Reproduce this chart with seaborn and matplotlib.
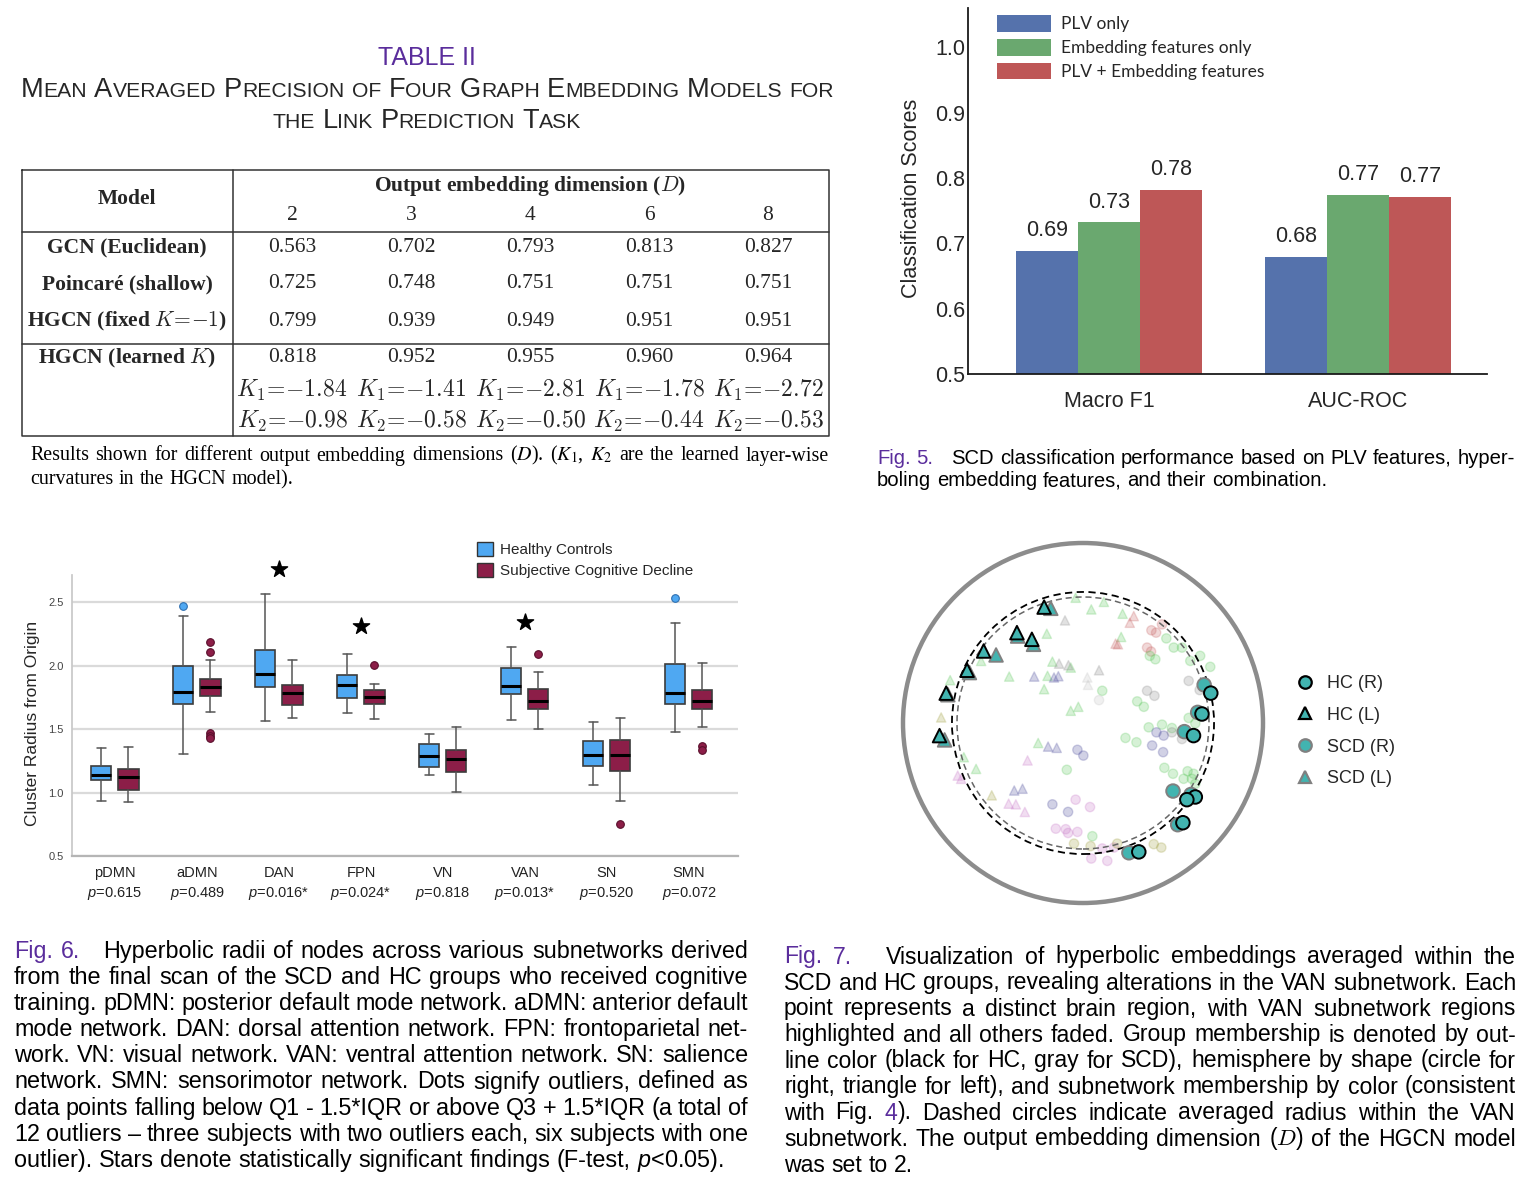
import matplotlib
matplotlib.use("Agg")
import matplotlib.pyplot as plt
from matplotlib.patches import Patch, Circle
from matplotlib.lines import Line2D
import numpy as np
import pandas as pd
import seaborn as sns

W, H = 1522, 1190
PURPLE = "#5A2D9C"
SANS = "Liberation Sans"
SERIF = "Liberation Serif"

# ---------------- Table II values ----------------
dims = [2, 3, 4, 6, 8]
model_names = ["GCN (Euclidean)", "Poincaré (shallow)",
               r"HGCN (fixed $K\!=\!{-}1$)", r"HGCN (learned $K$)"]
map_gcn = [0.563, 0.702, 0.793, 0.813, 0.827]
map_poincare = [0.725, 0.748, 0.751, 0.751, 0.751]
map_hgcn_fixed = [0.799, 0.939, 0.949, 0.951, 0.951]
map_hgcn_learned = [0.818, 0.952, 0.955, 0.960, 0.964]
k1_learned = [-1.84, -1.41, -2.81, -1.78, -2.72]
k2_learned = [-0.98, -0.58, -0.50, -0.44, -0.53]

# ---------------- Fig. 5 values ----------------
metrics = ["Macro F1", "AUC-ROC"]
feature_sets = ["PLV only", "Embedding features only", "PLV + Embedding features"]
plv_scores = [0.688, 0.679]
emb_scores = [0.732, 0.774]
both_scores = [0.782, 0.771]
bar_colors = ["#5572AC", "#6AA86F", "#BE5757"]

# ---------------- Fig. 6 values (box summaries) ----------------
networks = ["pDMN", "aDMN", "DAN", "FPN", "VN", "VAN", "SN", "SMN"]
p_values = [0.615, 0.489, 0.016, 0.024, 0.818, 0.013, 0.520, 0.072]
sig_networks = ["DAN", "FPN", "VAN"]
star_y = [2.76, 2.314, 2.345]

hc_lo = [0.933, 1.30, 1.563, 1.626, 1.14, 1.574, 1.056, 1.479]
hc_q1 = [1.096, 1.694, 1.831, 1.741, 1.203, 1.778, 1.206, 1.694]
hc_med = [1.140, 1.791, 1.936, 1.849, 1.285, 1.836, 1.295, 1.786]
hc_q3 = [1.209, 1.996, 2.122, 1.925, 1.379, 1.983, 1.406, 2.012]
hc_hi = [1.348, 2.39, 2.566, 2.09, 1.461, 2.143, 1.558, 2.335]
hc_out = [[], [2.466], [], [], [], [], [], [2.534]]

scd_lo = [0.923, 1.636, 1.587, 1.576, 1.001, 1.50, 0.930, 1.518]
scd_q1 = [1.022, 1.760, 1.689, 1.694, 1.159, 1.655, 1.169, 1.655]
scd_med = [1.119, 1.828, 1.783, 1.749, 1.266, 1.72, 1.295, 1.718]
scd_q3 = [1.185, 1.896, 1.849, 1.81, 1.337, 1.812, 1.411, 1.804]
scd_hi = [1.358, 2.041, 2.041, 1.852, 1.513, 1.951, 1.584, 2.022]
scd_out = [[], [2.185, 2.109, 1.466, 1.443, 1.427], [], [2.001], [], [2.093], [0.749], [1.366, 1.332]]

HC_BLUE = "#4FA8F2"
SCD_RED = "#8C1E48"

# ---------------- Fig. 7 values (Poincare disk coordinates) ----------------
van_x = [-0.216, -0.367, -0.284, -0.552, -0.644, -0.760, -0.797,
         0.710, 0.661, 0.614, 0.624, 0.577, 0.555, 0.310,
         -0.179, -0.363, -0.275, -0.483, -0.631, -0.751, -0.769,
         0.673, 0.637, 0.563, 0.500, 0.600, 0.526, 0.255]
van_y = [0.644, 0.502, 0.465, 0.400, 0.293, 0.166, -0.070,
         0.166, 0.050, -0.070, -0.411, -0.426, -0.554, -0.716,
         0.637, 0.483, 0.437, 0.378, 0.280, 0.157, -0.094,
         0.212, 0.059, -0.048, -0.378, -0.397, -0.565, -0.721]
van_hemi = ["L"] * 7 + ["R"] * 7 + ["L"] * 7 + ["R"] * 7
van_group = ["HC"] * 14 + ["SCD"] * 14
van_radius_hc = 0.728
van_radius_scd = 0.700
TEAL = "#42B4B0"

faded_points = [
    # left hemisphere (triangles)
    (-0.041, 0.696, "SMN", "L"), (0.046, 0.631, "SMN", "L"), (0.116, 0.673, "SMN", "L"),
    (0.220, 0.607, "SMN", "L"), (-0.201, 0.496, "SMN", "L"), (0.212, 0.478, "SMN", "L"),
    (-0.170, 0.341, "SMN", "L"), (-0.068, 0.308, "SMN", "L"), (-0.197, 0.262, "SMN", "L"),
    (-0.216, 0.188, "SMN", "L"), (-0.410, 0.258, "SMN", "L"), (-0.026, 0.090, "SMN", "L"),
    (-0.068, 0.068, "SMN", "L"), (-0.249, -0.111, "SMN", "L"), (-0.738, 0.238, "SMN", "L"),
    (-0.662, -0.190, "SMN", "L"), (-0.594, -0.255, "SMN", "L"), (-0.566, 0.345, "SMN", "L"),
    (-0.100, 0.570, "FPN", "L"), (-0.081, 0.321, "FPN", "L"), (0.089, 0.293, "FPN", "L"),
    (-0.133, 0.330, "FPN", "L"),
    (0.024, 0.253, "aDMN", "L"), (0.028, 0.212, "aDMN", "L"),
    (0.282, 0.594, "SN", "L"), (0.260, 0.557, "SN", "L"), (0.181, 0.441, "SN", "L"),
    (0.194, 0.437, "SN", "L"),
    (-0.271, 0.258, "DAN", "L"), (-0.161, 0.253, "DAN", "L"), (-0.137, 0.260, "DAN", "L"),
    (-0.194, -0.131, "DAN", "L"), (-0.146, -0.138, "DAN", "L"), (-0.382, -0.375, "DAN", "L"),
    (-0.336, -0.365, "DAN", "L"),
    (-0.308, -0.208, "VN", "L"), (-0.696, -0.292, "VN", "L"), (-0.677, -0.310, "VN", "L"),
    (-0.413, -0.448, "VN", "L"), (-0.373, -0.452, "VN", "L"), (-0.323, -0.494, "VN", "L"),
    (-0.788, 0.031, "pDMN", "L"), (-0.507, -0.402, "pDMN", "L"),
    # right hemisphere (circles)
    (0.380, 0.515, "SN", "R"), (0.406, 0.502, "SN", "R"), (0.439, 0.548, "SN", "R"),
    (0.356, 0.419, "SN", "R"), (0.378, 0.397, "SN", "R"),
    (0.463, 0.470, "SMN", "R"), (0.504, 0.419, "SMN", "R"), (0.550, 0.419, "SMN", "R"),
    (0.371, 0.373, "SMN", "R"), (0.402, 0.354, "SMN", "R"), (0.651, 0.373, "SMN", "R"),
    (0.707, 0.312, "SMN", "R"), (0.596, 0.345, "SMN", "R"), (0.107, 0.179, "SMN", "R"),
    (0.301, 0.120, "SMN", "R"), (0.338, 0.090, "SMN", "R"), (0.587, 0.028, "SMN", "R"),
    (0.624, -0.002, "SMN", "R"), (0.365, -0.024, "SMN", "R"), (0.439, -0.009, "SMN", "R"),
    (0.494, -0.028, "SMN", "R"), (0.236, -0.083, "SMN", "R"), (0.297, -0.107, "SMN", "R"),
    (-0.090, -0.260, "SMN", "R"), (0.452, -0.249, "SMN", "R"), (0.500, -0.282, "SMN", "R"),
    (0.581, -0.268, "SMN", "R"), (0.614, -0.282, "SMN", "R"), (0.559, -0.310, "SMN", "R"),
    (0.605, -0.310, "SMN", "R"), (0.624, -0.338, "SMN", "R"), (0.052, -0.629, "SMN", "R"),
    (0.587, 0.234, "FPN", "R"), (0.356, 0.179, "FPN", "R"), (0.397, 0.151, "FPN", "R"),
    (0.648, 0.183, "FPN", "R"), (0.550, -0.089, "FPN", "R"), (0.494, -0.052, "FPN", "R"),
    (0.089, 0.127, "aDMN", "R"),
    (0.408, -0.052, "DAN", "R"), (0.448, -0.070, "DAN", "R"), (0.384, -0.125, "DAN", "R"),
    (0.445, -0.162, "DAN", "R"), (-0.031, -0.149, "DAN", "R"), (0.002, -0.181, "DAN", "R"),
    (-0.170, -0.452, "DAN", "R"), (-0.083, -0.494, "DAN", "R"),
    (-0.041, -0.426, "VN", "R"), (0.039, -0.467, "VN", "R"), (-0.151, -0.587, "VN", "R"),
    (-0.096, -0.590, "VN", "R"), (-0.083, -0.611, "VN", "R"), (-0.031, -0.605, "VN", "R"),
    (0.046, -0.753, "VN", "R"), (0.135, -0.766, "VN", "R"), (0.107, -0.697, "VN", "R"),
    (0.172, -0.692, "VN", "R"),
    (-0.050, -0.670, "pDMN", "R"), (0.042, -0.684, "pDMN", "R"), (0.393, -0.673, "pDMN", "R"),
    (0.435, -0.692, "pDMN", "R"), (0.190, -0.670, "pDMN", "R"),
]
net_colors = {"SMN": "#5CC85C", "FPN": "#8A8A8A", "SN": "#C86464", "DAN": "#4B4B9B",
              "VN": "#C878C8", "pDMN": "#A0A040", "aDMN": "#C4C4C4"}

# ---------------- captions ----------------
table_caption = [
    "Results shown for different output embedding dimensions ($D$). ($K_1$, $K_2$ are the learned layer-wise",
    "curvatures in the HGCN model).",
]
fig5_caption = [
    "[Fig. 5.]   SCD classification performance based on PLV features, hyper-",
    "boling embedding features, and their combination.",
]
fig6_caption = [
    "[Fig. 6.]   Hyperbolic radii of nodes across various subnetworks derived",
    "from the final scan of the SCD and HC groups who received cognitive",
    "training. pDMN: posterior default mode network. aDMN: anterior default",
    "mode network. DAN: dorsal attention network. FPN: frontoparietal net-",
    "work. VN: visual network. VAN: ventral attention network. SN: salience",
    "network. SMN: sensorimotor network. Dots signify outliers, defined as",
    "data points falling below Q1 - 1.5*IQR or above Q3 + 1.5*IQR (a total of",
    "12 outliers – three subjects with two outliers each, six subjects with one",
    "outlier). Stars denote statistically significant findings (F-test, $p$<0.05).",
]
fig7_caption = [
    "[Fig. 7.]   Visualization of hyperbolic embeddings averaged within the",
    "SCD and HC groups, revealing alterations in the VAN subnetwork. Each",
    "point represents a distinct brain region, with VAN subnetwork regions",
    "highlighted and all others faded. Group membership is denoted by out-",
    "line color (black for HC, gray for SCD), hemisphere by shape (circle for",
    "right, triangle for left), and subnetwork membership by color (consistent",
    "with Fig. [4]). Dashed circles indicate averaged radius within the VAN",
    "subnetwork. The output embedding dimension ($D$) of the HGCN model",
    "was set to 2.",
]

sns.set_theme(style="white")
plt.rcParams["font.family"] = [SANS, "DejaVu Sans"]
plt.rcParams["mathtext.fontset"] = "custom"
plt.rcParams["mathtext.rm"] = SANS
plt.rcParams["mathtext.it"] = SANS + ":italic"
plt.rcParams["mathtext.bf"] = SANS + ":bold"

fig = plt.figure(figsize=(W / 100, H / 100), dpi=100)
ov = fig.add_axes([0, 0, 1, 1])
ov.set_xlim(0, W)
ov.set_ylim(H, 0)
ov.set_autoscale_on(False)
ov.axis("off")
R = fig.canvas.get_renderer()


def px_axes(x0, y0, x1, y1):
    ax = fig.add_axes([x0 / W, 1 - y1 / H, (x1 - x0) / W, (y1 - y0) / H])
    ax.set_facecolor("none")
    return ax


def tw(t):
    return t.get_window_extent(R).width


def small_caps(text, xc, y, big, small, **kw):
    arts, x = [], 0.0
    for i, word in enumerate(text.split(" ")):
        if i:
            x += 0.28 * big * 100 / 72
        runs = []
        for ch in word:
            b = not ch.islower()
            if runs and runs[-1][1] == b:
                runs[-1][0] += ch
            else:
                runs.append([ch, b])
        for s, b in runs:
            t = ov.text(0, y, s.upper(), fontsize=big if b else small,
                        va="baseline", ha="left", **kw)
            arts.append((t, x))
            x += tw(t)
    for t, x0 in arts:
        t.set_x(xc - x / 2 + x0)
    return x, arts


def parse_words(line):
    out, purple = [], False
    for w in line.split(" "):
        segs, buf = [], ""
        for ch in w:
            if ch in "[]":
                if buf:
                    segs.append((buf, purple))
                    buf = ""
                purple = ch == "["
            else:
                buf += ch
        if buf:
            segs.append((buf, purple))
        out.append(segs)
    return out


def paragraph(lines, x0, x1, y0, dy, size, **kw):
    space = 0.28 * size * 100 / 72
    for i, line in enumerate(lines):
        y = y0 + i * dy
        words = []
        for segs in parse_words(line):
            texts, w = [], 0.0
            for s, purple in segs:
                t = ov.text(0, y, s, color=PURPLE if purple else "black",
                            fontsize=size, va="baseline", ha="left", **kw)
                texts.append((t, w))
                w += tw(t)
            words.append((texts, w))
        total = sum(w for _, w in words)
        last = i == len(lines) - 1
        gap = space if last else (x1 - x0 - total) / (len(words) - 1)
        x = x0
        for texts, w in words:
            for t, off in texts:
                t.set_x(x + off)
            x += w + gap


# ---------------- Table II ----------------
ov.text(427, 58, "TABLE II", color=PURPLE, fontsize=18, ha="center", va="center")
w1, arts = small_caps("Mean Averaged Precision of Four Graph Embedding Models for", 0, 97, 18, 14)
for t, _ in arts:
    t.remove()
k = 815 / w1
small_caps("Mean Averaged Precision of Four Graph Embedding Models for", 427, 97, 18 * k, 14 * k)
small_caps("the Link Prediction Task", 427, 128, 18 * k, 14 * k)

line_kw = dict(color="#333333", lw=1.1)
ov.plot([22, 829, 829, 22, 22], [170, 170, 436, 436, 170], **line_kw)
ov.plot([233, 233], [170, 436], **line_kw)
ov.plot([22, 829], [232, 232], **line_kw)
ov.plot([22, 829], [344, 344], **line_kw)

tkw = dict(family=SERIF, fontsize=15.5, ha="center", va="center", math_fontfamily="cm")
col_x = [292, 411, 530, 649, 768]
row_y = [247, 284, 321, 358]
ov.text(127, 199, "Model", fontweight="bold", **tkw)
ov.text(530, 186, r"Output embedding dimension ($D$)", fontweight="bold", **tkw)
for cx, d in zip(col_x, dims):
    ov.text(cx, 215, str(d), **tkw)
for ry, name, vals in zip(row_y, model_names,
                          [map_gcn, map_poincare, map_hgcn_fixed, map_hgcn_learned]):
    ov.text(127, ry, name, fontweight="bold", **tkw)
    for cx, v in zip(col_x, vals):
        ov.text(cx, ry, f"{v:.3f}", **tkw)
kkw = dict(tkw, fontsize=17)
for cx, a, b in zip(col_x, k1_learned, k2_learned):
    ov.text(cx, 390, rf"$K_1\!=\!{{-}}{abs(a):.2f}$", **kkw)
    ov.text(cx, 421, rf"$K_2\!=\!{{-}}{abs(b):.2f}$", **kkw)

paragraph(table_caption, 30, 829, 460.5, 24, 14.4, family=SERIF, math_fontfamily="stix")

# ---------------- Fig. 5 bar chart ----------------
ax_bar = px_axes(968, 8, 1487, 374)
bar_df = pd.DataFrame({
    "metric": metrics * 3,
    "features": [f for f in feature_sets for _ in metrics],
    "score": plv_scores + emb_scores + both_scores,
})
sns.barplot(data=bar_df, x="metric", y="score", hue="features", hue_order=feature_sets,
            palette=bar_colors, width=0.75, saturation=1, errorbar=None, linewidth=0,
            ax=ax_bar)
for c in ax_bar.containers:
    ax_bar.bar_label(c, fmt="%.2f", padding=7, fontsize=15.5)
ax_bar.set_xlim(-0.566, 1.518)
ax_bar.set_ylim(0.5, 1.06)
yt = [0.5, 0.6, 0.7, 0.8, 0.9, 1.0]
ax_bar.set_yticks(yt, [f"{v:.1f}" for v in yt], fontsize=15.5)
ax_bar.tick_params(axis="x", length=0, pad=12, labelsize=15.5)
ax_bar.tick_params(axis="y", length=0, pad=2)
ax_bar.set_xlabel("")
ax_bar.set_ylabel("Classification Scores", fontsize=15.5)
ax_bar.yaxis.set_label_coords(-0.088, 0.48)
sns.despine(ax=ax_bar)
for s in ["left", "bottom"]:
    ax_bar.spines[s].set_color("#1a1a1a")
    ax_bar.spines[s].set_linewidth(1.3)
ax_bar.legend(loc="upper left", bbox_to_anchor=(997 / W, 1 - 15 / H),
              bbox_transform=fig.transFigure, frameon=False,
              prop={"family": "Lato", "size": 12.5}, handlelength=3.1, handleheight=1.1,
              handletextpad=0.6, labelspacing=0.38, borderpad=0, borderaxespad=0)

paragraph(fig5_caption, 877, 1515, 463.5, 23, 14.6)

# ---------------- Fig. 6 box plot ----------------
ax_box = px_axes(72, 575, 738, 856)
pos = np.arange(len(networks))


def box_stats(lo, q1, med, q3, hi, out):
    return [dict(whislo=a, q1=b, med=c, q3=d, whishi=e, fliers=f)
            for a, b, c, d, e, f in zip(lo, q1, med, q3, hi, out)]


groups = [
    (box_stats(hc_lo, hc_q1, hc_med, hc_q3, hc_hi, hc_out), -0.165, HC_BLUE, "#2E6FB0"),
    (box_stats(scd_lo, scd_q1, scd_med, scd_q3, scd_hi, scd_out), 0.165, SCD_RED, "#5A0F2C"),
]
for st, off, fc, ec in groups:
    ax_box.bxp(st, positions=pos + off, widths=0.244, patch_artist=True, capwidths=0.1,
               boxprops=dict(facecolor=fc, edgecolor="#3c3c3c", linewidth=1.2),
               medianprops=dict(color="black", linewidth=2.2),
               whiskerprops=dict(color="#555555", linewidth=1.1),
               capprops=dict(color="#555555", linewidth=1.1),
               flierprops=dict(marker="o", markersize=5.5, markerfacecolor=fc,
                               markeredgecolor=ec, markeredgewidth=0.8),
               manage_ticks=False)
ax_box.scatter([networks.index(n) for n in sig_networks], star_y, marker="*", s=150,
               color="black", zorder=4, clip_on=False)
ax_box.set_xlim(-0.524, 7.598)
ax_box.set_ylim(0.5, 2.713)
ax_box.set_axisbelow(True)
ax_box.yaxis.grid(True, color="#dadada", lw=1.6)
ax_box.xaxis.grid(False)
box_labels = [f"{n}\n$p$={p:.3f}" + ("*" if n in sig_networks else "")
              for n, p in zip(networks, p_values)]
ax_box.set_xticks(pos, box_labels, fontsize=10.5, linespacing=1.4, color="#222222")
byt = [0.5, 1.0, 1.5, 2.0, 2.5]
ax_box.set_yticks(byt, [f"{v:.1f}" for v in byt], fontsize=8, color="#444444")
ax_box.tick_params(axis="x", length=0, pad=7)
ax_box.tick_params(axis="y", length=0, pad=6)
ax_box.set_ylabel("Cluster Radius from Origin", fontsize=12.5)
ax_box.yaxis.set_label_coords(-0.048, 0.473)
ax_box.spines["top"].set_visible(False)
ax_box.spines["right"].set_visible(False)
ax_box.spines["left"].set_color("#c8c8c8")
ax_box.spines["bottom"].set_color("#b5b5b5")
ax_box.spines["bottom"].set_linewidth(1.6)
box_handles = [Patch(facecolor=HC_BLUE, edgecolor="#333333", label="Healthy Controls"),
               Patch(facecolor=SCD_RED, edgecolor="#333333", label="Subjective Cognitive Decline")]
ax_box.legend(handles=box_handles, loc="upper left", bbox_to_anchor=(477 / W, 1 - 542 / H),
              bbox_transform=fig.transFigure, frameon=False, fontsize=11,
              handlelength=1.05, handleheight=1.05, handletextpad=0.45, labelspacing=0.35,
              borderpad=0, borderaxespad=0)

paragraph(fig6_caption, 14, 748, 958, 26.1, 16.8)

# ---------------- Fig. 7 Poincare disk ----------------
half = 1.06 * 180
ax_sc = px_axes(1083 - half, 723 - half, 1083 + half, 723 + half)
faded = pd.DataFrame(faded_points, columns=["x", "y", "net", "hemi"])
sns.scatterplot(data=faded, x="x", y="y", hue="net", style="hemi", palette=net_colors,
                markers={"R": "o", "L": "^"}, s=45, alpha=0.25, edgecolor="face",
                linewidth=1.0, legend=False, ax=ax_sc)
van = pd.DataFrame({"x": van_x, "y": van_y, "group": van_group, "hemi": van_hemi})
for grp, edge in [("SCD", "#808080"), ("HC", "black")]:
    sns.scatterplot(data=van[van["group"] == grp], x="x", y="y", style="hemi",
                    markers={"R": "o", "L": "^"}, color=TEAL, s=95, edgecolor=edge,
                    linewidth=1.4, legend=False, ax=ax_sc, zorder=3)
ax_sc.add_patch(Circle((0, 0), 1.0, fill=False, lw=3.2, ec="#8c8c8c"))
ax_sc.add_patch(Circle((0, 0), van_radius_hc, fill=False, lw=1.3, ec="black", ls=(0, (4, 2.5))))
ax_sc.add_patch(Circle((0, 0), van_radius_scd, fill=False, lw=1.1, ec="#666666", ls=(0, (4, 2.5))))
ax_sc.set_xlim(-1.06, 1.06)
ax_sc.set_ylim(-1.06, 1.06)
ax_sc.set_aspect("equal")
ax_sc.axis("off")

sc_handles = [
    Line2D([], [], ls="", marker="o", markersize=9, markerfacecolor=TEAL, markeredgecolor="black", markeredgewidth=1.6),
    Line2D([], [], ls="", marker="^", markersize=9, markerfacecolor=TEAL, markeredgecolor="black", markeredgewidth=1.6),
    Line2D([], [], ls="", marker="o", markersize=9, markerfacecolor=TEAL, markeredgecolor="#808080", markeredgewidth=1.6),
    Line2D([], [], ls="", marker="^", markersize=9, markerfacecolor=TEAL, markeredgecolor="#808080", markeredgewidth=1.6),
]
fig.legend(sc_handles, ["HC (R)", "HC (L)", "SCD (R)", "SCD (L)"], loc="upper left",
           bbox_to_anchor=(1296 / W, 1 - 675 / H), frameon=False, fontsize=13,
           handlelength=1.0, handletextpad=0.7, labelspacing=0.82, borderpad=0, borderaxespad=0)

paragraph(fig7_caption, 784, 1516, 963.5, 26, 16.6, math_fontfamily="cm")

fig.savefig("out.png", dpi=100)
